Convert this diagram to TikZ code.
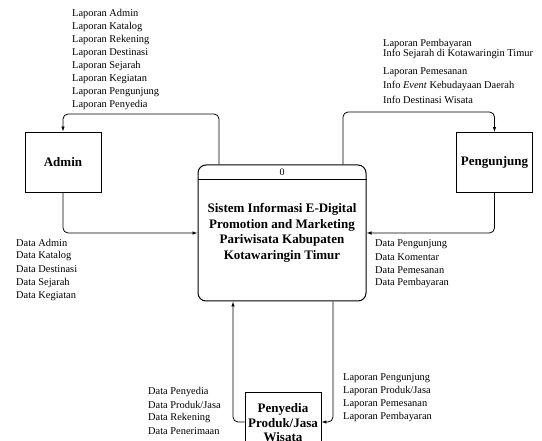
\documentclass[tikz,border=0pt]{standalone}
\usepackage{fontspec}
\setmainfont{Liberation Serif}
\usetikzlibrary{arrows.meta}
\begin{document}
\begin{tikzpicture}[x=1pt,y=-1pt,
  lbl/.style={anchor=west, inner sep=0pt, font=\fontsize{10.4}{12}\selectfont},
  ent/.style={draw, line width=0.9pt, minimum width=76pt, minimum height=60pt, inner sep=0pt,
    font=\fontsize{13}{14.5}\selectfont\bfseries, align=center},
  procbox/.style={draw, line width=1pt, rounded corners=8pt, minimum width=168pt, minimum height=136pt,
    inner sep=0pt, align=center, font=\fontsize{13}{15.5}\selectfont\bfseries},
  flow/.style={draw, line width=0.8pt, rounded corners=5pt, -{Latex[length=5pt,width=3.5pt]}}]
\useasboundingbox (0,0) rectangle (542,441);
\clip (0,0) rectangle (542,441);

% helper coordinates
\coordinate (yA) at (0,114);
\coordinate (yB) at (0,112);
\coordinate (yD) at (0,422);
\coordinate (yH) at (0,180);
\coordinate (xA) at (219,0);
\coordinate (xB) at (343,0);
\coordinate (xC) at (233,0);
\coordinate (xD) at (333,0);

% nodes
\node[ent] (admin) at (63,162) {Admin};
\node[ent] (peng) at (494.5,162.5) {Pengunjung};
\node[procbox] (proc) at (282,233) {Sistem Informasi E-Digital\\Promotion and Marketing\\Pariwisata Kabupaten\\Kotawaringin Timur};
\draw[line width=1pt] (proc.west |- yH) -- (proc.east |- yH);
\node[inner sep=0pt, font=\fontsize{10}{12}\selectfont] (pid) at (282,172.5) {0};
\node[ent, minimum height=62pt] (pen) at (283,423) {Penyedia\\Produk/Jasa\\Wisata};

% flows
\draw[flow] (proc.north -| xA) -- (xA |- yA) -- (admin.north |- yA) -- (admin.north);
\draw[flow] (admin.south) |- (proc.west);
\draw[flow] (proc.north -| xB) -- (xB |- yB) -- (peng.north |- yB) -- (peng.north);
\draw[flow] (peng.south) |- (proc.east);
\draw[flow] (pen.west |- yD) -| (proc.south -| xC);
\draw[flow] (proc.south -| xD) |- (pen.east |- yD);

% labels
\foreach \t [count=\i] in {Laporan Admin, Laporan Katalog, Laporan Rekening, Laporan Destinasi,
  Laporan Sejarah, Laporan Kegiatan, Laporan Pengunjung, Laporan Penyedia}
  \node[lbl] (tl\i) at (72,{14+13*(\i-1)}) {\t};
\foreach \y/\t [count=\i] in {44/Laporan Pembayaran, 54/Info Sejarah di Kotawaringin Timur,
  72/Laporan Pemesanan, 86/{Info \textit{Event} Kebudayaan Daerah}, 100/Info Destinasi Wisata}
  \node[lbl] (tr\i) at (383,\y) {\t};
\foreach \t [count=\i] in {Data Admin, Data Katalog, Data Destinasi, Data Sejarah, Data Kegiatan}
  \node[lbl] (ml\i) at (16,{243+13.25*(\i-1)}) {\t};
\foreach \t [count=\i] in {Data Pengunjung, Data Komentar, Data Pemesanan, Data Pembayaran}
  \node[lbl] (mr\i) at (375,{244+13*(\i-1)}) {\t};
\foreach \t [count=\i] in {Data Penyedia, Data Produk/Jasa, Data Rekening, Data Penerimaan}
  \node[lbl] (bl\i) at (148,{392+13*(\i-1)}) {\t};
\foreach \t [count=\i] in {Laporan Pengunjung, Laporan Produk/Jasa, Laporan Pemesanan, Laporan Pembayaran}
  \node[lbl] (br\i) at (343,{378+13*(\i-1)}) {\t};
\end{tikzpicture}
\end{document}
